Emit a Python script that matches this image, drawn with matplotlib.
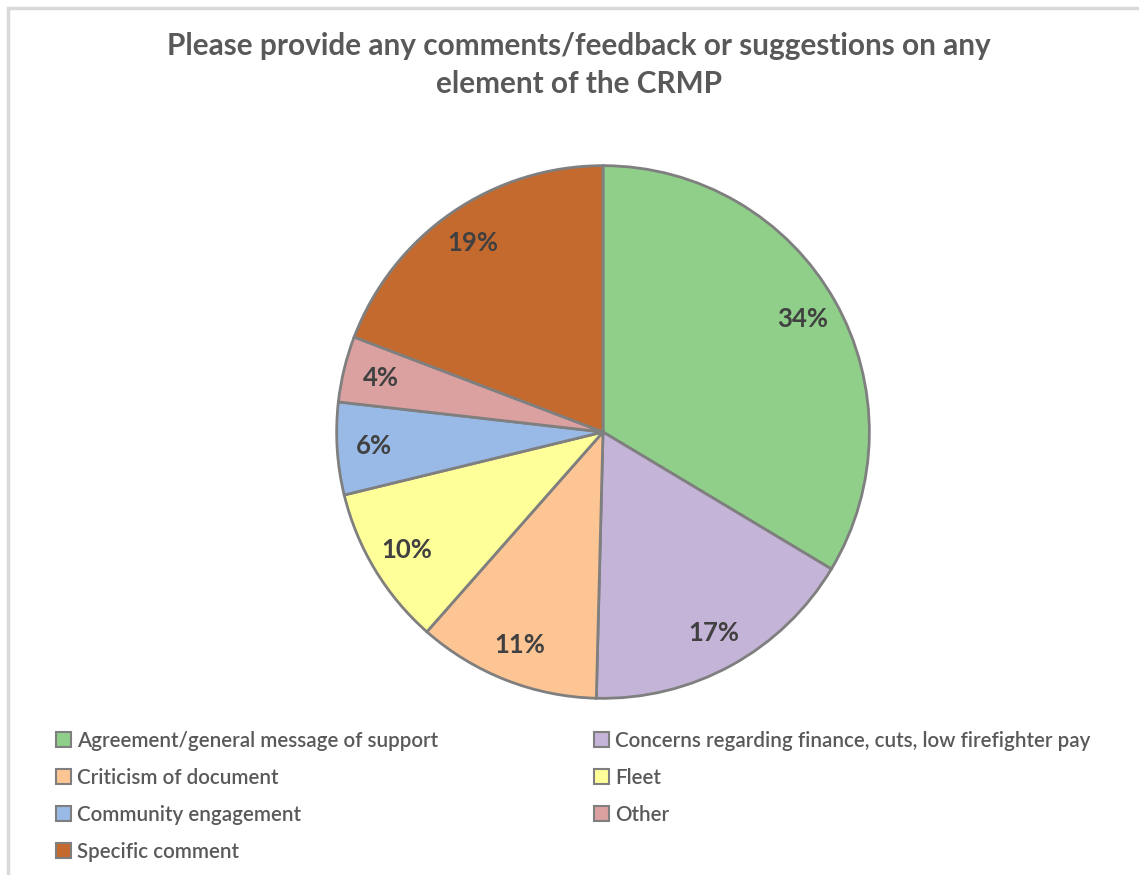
import matplotlib
matplotlib.use("Agg")
import matplotlib.pyplot as plt
from matplotlib.patches import Patch, Rectangle

categories = [
    "Agreement/general message of support",
    "Concerns regarding finance, cuts, low firefighter pay",
    "Criticism of document",
    "Fleet",
    "Community engagement",
    "Other",
    "Specific comment",
]
values = [33.6, 16.8, 11.1, 9.7, 5.6, 4.0, 19.2]
colors = ["#8fcf8a", "#c4b4d8", "#fdc594", "#ffff99", "#99bae6", "#dba0a0", "#c46a2e"]
title = "Please provide any comments/feedback or suggestions on any\nelement of the CRMP"

plt.rcParams['font.family'] = ['Lato', 'DejaVu Sans']

W, H = 1139, 875
fig = plt.figure(figsize=(W / 100, H / 100), dpi=100)

# light border
fig.patches.append(Rectangle((8 / W, -0.1), 1.2, 1 - 8 / H + 0.1, transform=fig.transFigure,
                             fill=False, edgecolor="#d9d9d9", linewidth=2.5))

cx, cy, r = 603, 432, 269
ax = fig.add_axes([(cx - r) / W, (H - cy - r) / H, 2 * r / W, 2 * r / H])
wedges, texts, autotexts = ax.pie(
    values, colors=colors, startangle=90, counterclock=False, radius=1,
    autopct="%.0f%%", pctdistance=0.86,
    wedgeprops=dict(edgecolor="#7f7f7f", linewidth=2),
    textprops=dict(color="#404040", fontsize=18.5, fontweight="bold"))
ax.set_xlim(-1.01, 1.01)
ax.set_ylim(-1.01, 1.01)
ax.axis("off")

fig.text(579 / W, 1 - 65 / H, title, ha="center", va="center", fontsize=21.4,
         fontweight="bold", color="#595959", linespacing=1.42)

handles = [Patch(facecolor=c, edgecolor="#7f7f7f", linewidth=1.5) for c in colors]
left_idx = [0, 2, 4, 6]
right_idx = [1, 3, 5]
kw = dict(frameon=False, prop=dict(size=14.8, weight="semibold"), labelcolor="#595959",
          handlelength=0.72, handleheight=0.72, handletextpad=0.3, labelspacing=0.82,
          borderpad=0, borderaxespad=0)
fig.legend([handles[i] for i in left_idx], [categories[i] for i in left_idx],
           loc="upper left", bbox_to_anchor=(56 / W, 1 - 731 / H), **kw)
fig.legend([handles[i] for i in right_idx], [categories[i] for i in right_idx],
           loc="upper left", bbox_to_anchor=(594 / W, 1 - 731 / H), **kw)

fig.savefig("out.png", dpi=100, facecolor="white")
